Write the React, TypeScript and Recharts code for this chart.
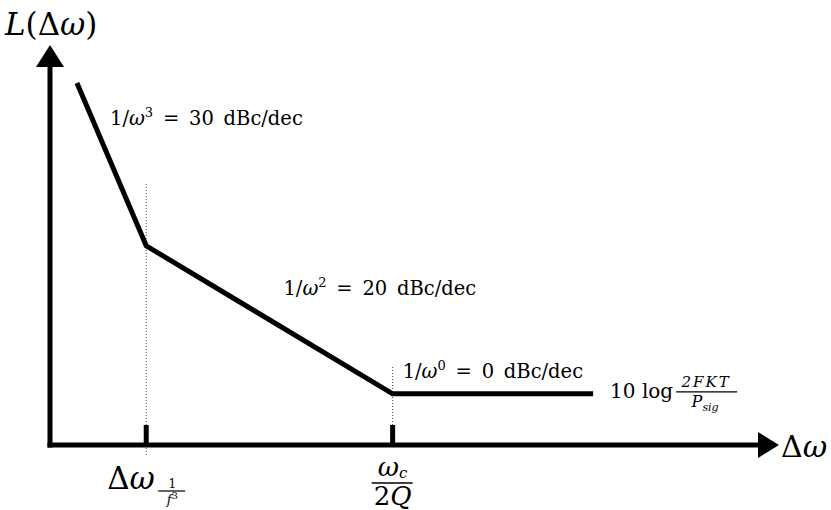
import React from 'react';
import { LineChart, Line, XAxis, YAxis, ReferenceLine, ReferenceDot } from 'recharts';

// asymptotic phase-noise profile: corner positions (log offset) and level
const cornerX = [0.37, 1.32, 4.7, 7.45];
const noiseLevel = [9.05, 4.98, 1.28, 1.28];
const slopePowers = ['3', '2', '0'];
const slopeRates = ['30', '20', '0'];

const noiseData = cornerX.map((x, i) => ({ x, y: noiseLevel[i] }));

const W = 831;
const H = 510;
const MARGIN = { top: 45, right: 52, left: 50, bottom: 65 };
const FONT = "'DejaVu Serif', 'Liberation Serif', serif";

const YArrow = ({ cx, cy }: any) => (
  <polygon points={`${cx},${cy} ${cx - 14},${cy + 22} ${cx + 14},${cy + 22}`} fill="#000" />
);

const XArrow = ({ cx, cy }: any) => (
  <polygon points={`${cx},${cy} ${cx - 21},${cy - 13} ${cx - 21},${cy + 13}`} fill="#000" />
);

const YTitle = ({ cx, cy }: any) => (
  <text x={cx - 45} y={cy - 10} fontFamily={FONT} fontSize={31} fill="#000">
    <tspan fontStyle="italic">L</tspan>(Δ<tspan fontStyle="italic">ω</tspan>)
  </text>
);

const XTitle = ({ cx, cy }: any) => (
  <text x={cx + 2} y={cy + 12} fontFamily={FONT} fontSize={30} fill="#000">
    Δ<tspan fontStyle="italic">ω</tspan>
  </text>
);

const slopeLabel = (i: number, dx: number, dy: number) => ({ cx, cy }: any) => (
  <text x={cx + dx} y={cy + dy} fontFamily={FONT} fontSize={19.5} fill="#000">
    1/<tspan fontStyle="italic">ω</tspan>
    <tspan dy={-8} fontSize={13}>{slopePowers[i]}</tspan>
    <tspan dy={8}>{'\u2002=\u2002'}{slopeRates[i]}{'\u2002'}dBc/dec</tspan>
  </text>
);

const FloorLabel = ({ cx, cy }: any) => (
  <g fontFamily={FONT} fill="#000">
    <text x={cx + 17} y={cy + 4} fontSize={20}>10 log</text>
    <text x={cx + 113} y={cy - 7} fontSize={15} textAnchor="middle" fontStyle="italic" letterSpacing={2}>2FKT</text>
    <line x1={cx + 83} x2={cx + 144} y1={cy - 2} y2={cy - 2} stroke="#000" strokeWidth={1.2} />
    <text x={cx + 112} y={cy + 13} fontSize={16} textAnchor="middle" fontStyle="italic">
      P<tspan fontSize={11} dy={4}>sig</tspan>
    </text>
  </g>
);

const FlickerCorner = ({ cx, cy }: any) => (
  <g fontFamily={FONT} fill="#000">
    <text x={cx - 39} y={cy + 44} fontSize={31}>
      Δ<tspan fontStyle="italic">ω</tspan>
    </text>
    <text x={cx + 26} y={cy + 43} fontSize={12} textAnchor="middle">1</text>
    <line x1={cx + 12} x2={cx + 39} y1={cy + 46} y2={cy + 46} stroke="#000" strokeWidth={1.2} />
    <text x={cx + 26} y={cy + 59} fontSize={13} textAnchor="middle">
      <tspan fontStyle="italic">f</tspan>
      <tspan dy={-5} fontSize={10}>3</tspan>
    </text>
  </g>
);

const ResonatorCorner = ({ cx, cy }: any) => (
  <g fontFamily={FONT} fill="#000">
    <text x={cx} y={cy + 31} fontSize={26} textAnchor="middle">
      <tspan fontStyle="italic">ω</tspan>
      <tspan fontStyle="italic" fontSize={15} dy={2}>c</tspan>
    </text>
    <line x1={cx - 21} x2={cx + 20} y1={cy + 38} y2={cy + 38} stroke="#000" strokeWidth={1.5} />
    <text x={cx} y={cy + 60} fontSize={26} textAnchor="middle">
      2<tspan fontStyle="italic">Q</tspan>
    </text>
  </g>
);

export default function App() {
  const dotted = { stroke: '#444', strokeWidth: 1, strokeDasharray: '1 2' };
  return (
    <div style={{ position: 'absolute', left: 0, top: 0, width: W, height: H, background: '#fff' }}>
      <LineChart width={W} height={H} data={noiseData} margin={MARGIN}>
        <XAxis type="number" dataKey="x" domain={[0, 10]} hide allowDataOverflow />
        <YAxis type="number" dataKey="y" domain={[0, 10]} hide allowDataOverflow />

        {/* corner markers */}
        <ReferenceLine ifOverflow="visible" segment={[{ x: cornerX[1], y: -0.25 }, { x: cornerX[1], y: 6.55 }]} {...dotted} />
        <ReferenceLine ifOverflow="visible" segment={[{ x: cornerX[2], y: 0.5 }, { x: cornerX[2], y: 1.95 }]} {...dotted} />
        <ReferenceLine ifOverflow="visible" segment={[{ x: cornerX[1], y: 0 }, { x: cornerX[1], y: 0.5 }]} stroke="#000" strokeWidth={5} />
        <ReferenceLine ifOverflow="visible" segment={[{ x: cornerX[2], y: 0 }, { x: cornerX[2], y: 0.5 }]} stroke="#000" strokeWidth={5} />

        {/* axes with arrowheads */}
        <ReferenceLine ifOverflow="visible" segment={[{ x: 0, y: 0 }, { x: 9.75, y: 0 }]} stroke="#000" strokeWidth={5} strokeLinecap="square" />
        <ReferenceLine ifOverflow="visible" segment={[{ x: 0, y: 0 }, { x: 0, y: 9.5 }]} stroke="#000" strokeWidth={5} strokeLinecap="square" />
        <ReferenceDot ifOverflow="visible" x={10} y={0} shape={XArrow} />
        <ReferenceDot ifOverflow="visible" x={0} y={10} shape={YArrow} />
        <ReferenceDot ifOverflow="visible" x={0} y={10} shape={YTitle} />
        <ReferenceDot ifOverflow="visible" x={10} y={0} shape={XTitle} />

        <Line type="linear" dataKey="y" stroke="#000" strokeWidth={5} dot={false} isAnimationActive={false} />

        <ReferenceDot ifOverflow="visible" x={cornerX[0]} y={noiseLevel[0]} shape={slopeLabel(0, 33, 42)} />
        <ReferenceDot ifOverflow="visible" x={(cornerX[1] + cornerX[2]) / 2} y={(noiseLevel[1] + noiseLevel[2]) / 2} shape={slopeLabel(1, 14, -25)} />
        <ReferenceDot ifOverflow="visible" x={cornerX[2]} y={noiseLevel[2]} shape={slopeLabel(2, 10, -16)} />
        <ReferenceDot ifOverflow="visible" x={cornerX[3]} y={noiseLevel[3]} shape={FloorLabel} />
        <ReferenceDot ifOverflow="visible" x={cornerX[1]} y={0} shape={FlickerCorner} />
        <ReferenceDot ifOverflow="visible" x={cornerX[2]} y={0} shape={ResonatorCorner} />
      </LineChart>
    </div>
  );
}
